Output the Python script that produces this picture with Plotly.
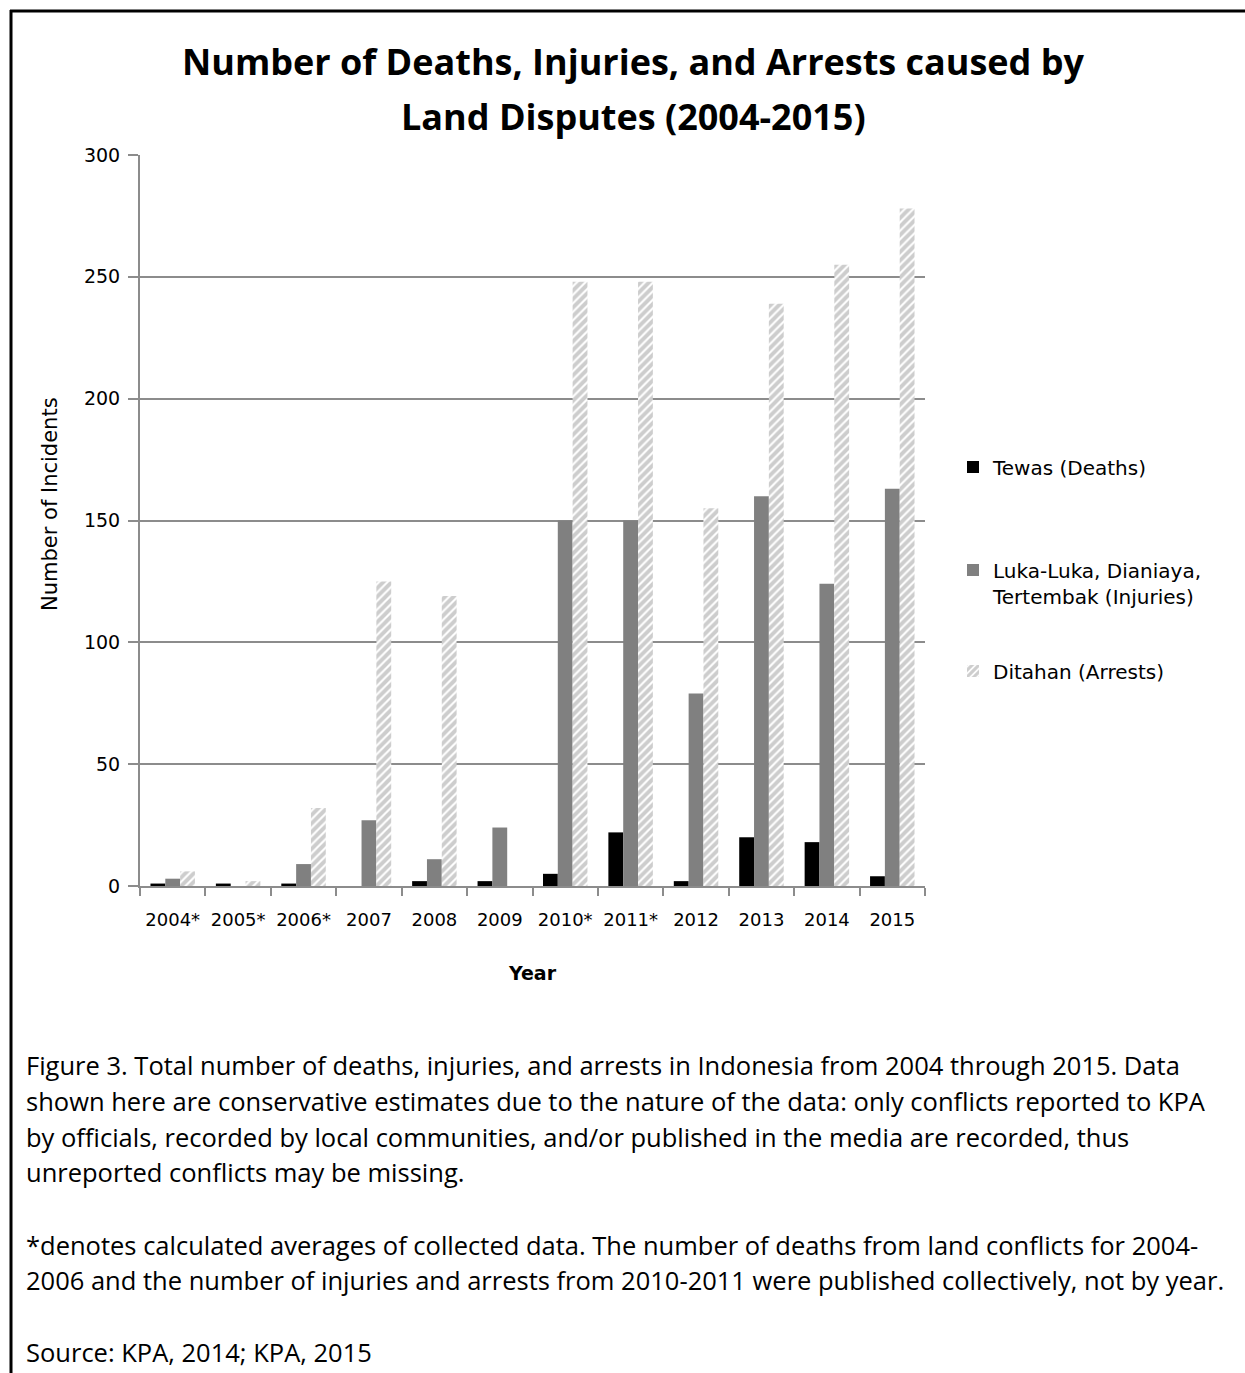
import plotly.graph_objects as go

# Land-dispute casualties in Indonesia, 2004-2015 (KPA)
years = ["2004*", "2005*", "2006*", "2007", "2008", "2009",
         "2010*", "2011*", "2012", "2013", "2014", "2015"]
deaths = [1, 1, 1, 0, 2, 2, 5, 22, 2, 20, 18, 4]
injuries = [3, 0, 9, 27, 11, 24, 150, 150, 79, 160, 124, 163]
arrests = [6, 2, 32, 125, 119, 0, 248, 248, 155, 239, 255, 278]

y_ticks = [0, 50, 100, 150, 200, 250, 300]

title_lines = ["Number of Deaths, Injuries, and Arrests caused by",
               "Land Disputes (2004-2015)"]
y_title = "Number of Incidents"
caption_lines = [
    "Figure 3. Total number of deaths, injuries, and arrests in Indonesia from 2004 through 2015. Data",
    "shown here are conservative estimates due to the nature of the data: only conflicts reported to KPA",
    "by officials, recorded by local communities, and/or published in the media are recorded, thus",
    "unreported conflicts may be missing.",
    "*denotes calculated averages of collected data. The number of deaths from land conflicts for 2004-",
    "2006 and the number of injuries and arrests from 2010-2011 were published collectively, not by year.",
    "Source: KPA, 2014; KPA, 2015",
]

W, H = 1245, 1373
PL, PR, PT, PB = 140, 925, 155, 886  # plot area in pixels


def px(x):
    return (x - PL) / (PR - PL)


def py(y):
    return (PB - y) / (PB - PT)


CHART_FONT = "DejaVu Sans"
TITLE_FONT = "Open Sans"
TEXT_FONT = "Open Sans"
AXIS_GREY = "#8c8c8c"

fig = go.Figure()
fig.add_trace(go.Bar(
    x=years, y=deaths, name="Tewas (Deaths)",
    marker=dict(color="#000000", line=dict(width=0)),
    legend="legend",
))
fig.add_trace(go.Bar(
    x=years, y=injuries, name="Luka-Luka, Dianiaya,<br>Tertembak (Injuries)",
    marker=dict(color="#808080", line=dict(width=0)),
    legend="legend2",
))
fig.add_trace(go.Bar(
    x=years, y=arrests, name="Ditahan (Arrests)",
    marker=dict(color="#ffffff", line=dict(width=0),
                pattern=dict(shape="/", fgcolor="#9c9c9c", bgcolor="#ffffff",
                             size=6, solidity=0.65)),
    legend="legend3",
))

legend_common = dict(font=dict(family=CHART_FONT, size=20, color="#000000"),
                     bgcolor="rgba(0,0,0,0)", xanchor="left", yanchor="middle",
                     valign="top", itemclick=False)

annotations = []
for i, line in enumerate(title_lines):
    annotations.append(dict(
        text=f"<b>{line}</b>", xref="paper", yref="paper",
        x=px(633), y=py([62, 117][i]), xanchor="center", yanchor="middle",
        showarrow=False, font=dict(family=TITLE_FONT, size=36, color="#000000"),
    ))
# vertical y-axis title, centred on the chart block rather than the plot area
annotations.append(dict(
    text=y_title, xref="paper", yref="paper", x=px(50), y=py(504),
    xanchor="center", yanchor="middle", textangle=-90, showarrow=False,
    font=dict(family=CHART_FONT, size=21, color="#000000"),
))
caption_y = [1065, 1101, 1137, 1172, 1245, 1280, 1352]
for line, yy in zip(caption_lines, caption_y):
    annotations.append(dict(
        text=line, xref="paper", yref="paper",
        x=px(24), y=py(yy), xanchor="left", yanchor="middle",
        showarrow=False, font=dict(family=TEXT_FONT, size=25.5, color="#000000"),
    ))

# frame around the figure (top and left edges)
shapes = [
    dict(type="line", xref="paper", yref="paper", x0=px(10), x1=px(1245),
         y0=py(11), y1=py(11), line=dict(color="#000000", width=3)),
    dict(type="line", xref="paper", yref="paper", x0=px(11), x1=px(11),
         y0=py(10), y1=py(1373), line=dict(color="#000000", width=3)),
]

fig.update_layout(
    width=W, height=H, autosize=False,
    margin=dict(l=PL, r=W - PR, t=PT, b=H - PB, pad=0),
    paper_bgcolor="#ffffff", plot_bgcolor="#ffffff",
    barmode="group", bargap=0.32, bargroupgap=0,
    font=dict(family=CHART_FONT, color="#000000"),
    showlegend=True,
    legend=dict(**legend_common, x=px(953), y=py(467)),
    legend2=dict(**legend_common, x=px(953), y=py(583)),
    legend3=dict(**legend_common, x=px(953), y=py(671)),
    annotations=annotations,
    shapes=shapes,
)

fig.update_xaxes(
    type="category", showline=True, linecolor=AXIS_GREY, linewidth=2,
    ticks="outside", tickson="boundaries", ticklen=8, tickcolor=AXIS_GREY,
    tickwidth=2, showgrid=False, ticklabelstandoff=16, tickangle=0,
    tickfont=dict(family=CHART_FONT, size=18, color="#000000"),
    title=dict(text="<b>Year</b>", font=dict(family=CHART_FONT, size=19, color="#000000"),
               standoff=38),
)
fig.update_yaxes(
    range=[0, 300], tickvals=y_ticks, showline=True, linecolor=AXIS_GREY,
    linewidth=2, ticks="outside", ticklen=10, tickcolor=AXIS_GREY, tickwidth=2,
    showgrid=True, gridcolor=AXIS_GREY, gridwidth=2, zeroline=False,
    ticklabelstandoff=4,
    tickfont=dict(family=CHART_FONT, size=19, color="#000000"),
)

fig.write_html("out.html")
